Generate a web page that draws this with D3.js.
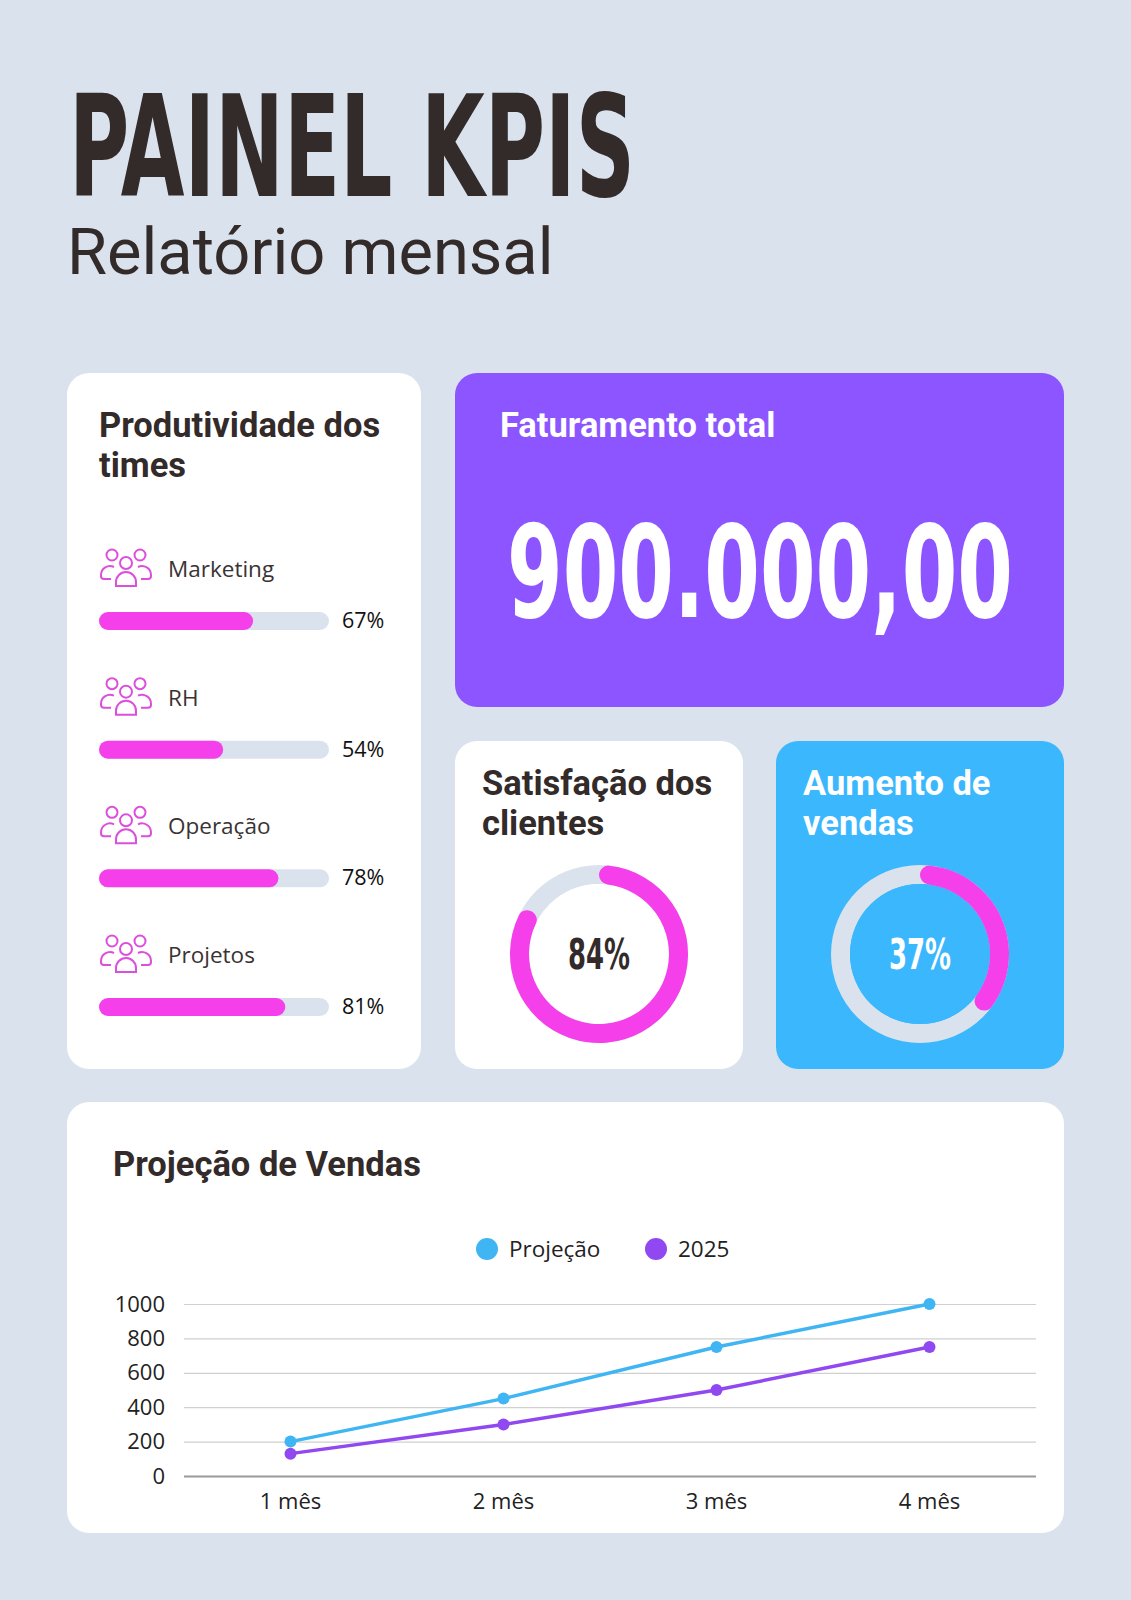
<html lang="pt">
  <head>
    <meta charset="UTF-8" />
    <title>Painel KPIs</title>
    <script src="https://d3js.org/d3.v7.min.js"></script>
  </head>
  <style>
    body {
      margin: 0px;
      overflow: hidden;
      background: #dae3ed;
    }
    text {
      fill: #332a2a;
    }
  </style>
  <body>
    <svg width="1131" height="1600"></svg>
  </body>
  <footer>
    <script>
      // dados
      var teams = ["Marketing", "RH", "Operação", "Projetos"];
      var teamValues = [67, 54, 78, 81];
      var revenueLabel = "900.000,00";
      var satisfaction = 84;
      var salesIncrease = 37;
      var months = ["1 mês", "2 mês", "3 mês", "4 mês"];
      var projection = [200, 450, 750, 1000];
      var sales2025 = [130, 300, 500, 750];
      var seriesNames = ["Projeção", "2025"];
      var yTicks = [0, 200, 400, 600, 800, 1000];

      var pink = "#f53fea";
      var track = "#dae3ed";
      var purple = "#8c55ff";
      var blue = "#3bb7fd";
      var dark = "#332a2a";
      var heading = "Roboto, 'Liberation Sans', sans-serif";
      var body = "'Open Sans', 'Noto Sans', sans-serif";
      var condensed = "'DejaVu Sans Condensed', 'Liberation Sans Narrow', sans-serif";

      var svg = d3.select("svg");

      svg.append("rect").attr("width", 1131).attr("height", 1600).attr("fill", "#dae3ed");

      // texto condensado: escala horizontal para caber na largura pedida
      function squeezed(x, y, size, width, color, str, anchor) {
        var g = svg.append("g");
        var t = g
          .append("text")
          .attr("font-family", condensed)
          .attr("font-weight", "bold")
          .attr("font-size", size)
          .attr("text-anchor", anchor || "start")
          .style("fill", color)
          .text(str);
        var k = width / t.node().getComputedTextLength();
        g.attr("transform", `translate(${x}, ${y}) scale(${k}, 1)`);
        return g;
      }

      // titulo
      squeezed(69, 196, 140, 566, dark, "PAINEL KPIS");

      svg
        .append("text")
        .attr("x", 67)
        .attr("y", 274)
        .attr("font-family", heading)
        .attr("font-size", 65)
        .text("Relatório mensal");

      // cards
      var cards = [
        { x: 67, y: 373, w: 354, h: 696, fill: "#ffffff" },
        { x: 455, y: 373, w: 609, h: 334, fill: purple },
        { x: 455, y: 741, w: 288, h: 328, fill: "#ffffff" },
        { x: 776, y: 741, w: 288, h: 328, fill: blue },
        { x: 67, y: 1102, w: 997, h: 431, fill: "#ffffff" }
      ];
      svg
        .selectAll("rect.card")
        .data(cards)
        .enter()
        .append("rect")
        .attr("class", "card")
        .attr("x", (d) => d.x)
        .attr("y", (d) => d.y)
        .attr("width", (d) => d.w)
        .attr("height", (d) => d.h)
        .attr("rx", 22)
        .attr("fill", (d) => d.fill);

      function title(lines, x, y, color) {
        var t = svg
          .append("text")
          .attr("font-family", heading)
          .attr("font-weight", "bold")
          .attr("font-size", 34.5)
          .style("fill", color);
        lines.forEach(function (l, i) {
          t.append("tspan").attr("x", x).attr("y", y + i * 40).text(l);
        });
      }

      title(["Produtividade dos", "times"], 99, 437, dark);
      title(["Faturamento total"], 500, 437, "#ffffff");
      title(["Satisfação dos", "clientes"], 482, 795, dark);
      title(["Aumento de", "vendas"], 803, 795, "#ffffff");
      title(["Projeção de Vendas"], 113, 1176, dark);

      // produtividade
      var rowY = d3.scalePoint().domain(teams).range([577, 963]);
      var barX = d3.scaleLinear().domain([0, 100]).range([99, 329]);

      var rows = svg
        .selectAll("g.team")
        .data(teams)
        .enter()
        .append("g")
        .attr("class", "team")
        .attr("transform", (d) => `translate(0, ${rowY(d)})`);

      // icone de pessoas
      var icon = rows
        .append("g")
        .attr("transform", "translate(99, -29)")
        .attr("fill", "none")
        .attr("stroke", "#dc4fdc")
        .attr("stroke-width", 2);
      icon.append("circle").attr("cx", 13).attr("cy", 7).attr("r", 5.5);
      icon.append("circle").attr("cx", 41).attr("cy", 7).attr("r", 5.5);
      icon.append("circle").attr("cx", 27).attr("cy", 15).attr("r", 6);
      icon.append("path").attr("d", "M17,38 v-4 a10,10 0 0 1 20,0 v4 z");
      icon.append("path").attr("d", "M12,31 h-7 a3,3 0 0 1 -3,-3 v-1 a9,9 0 0 1 13,-8");
      icon.append("path").attr("d", "M42,31 h7 a3,3 0 0 0 3,-3 v-1 a9,9 0 0 0 -13,-8");

      rows
        .append("text")
        .attr("x", 168)
        .attr("y", 0)
        .attr("font-family", body)
        .attr("font-size", 22.5)
        .style("fill", "#3a3333")
        .text((d) => d);

      rows
        .append("rect")
        .attr("x", barX(0))
        .attr("y", 35)
        .attr("width", barX(100) - barX(0))
        .attr("height", 18)
        .attr("rx", 9)
        .attr("fill", track);

      rows
        .append("rect")
        .attr("x", barX(0))
        .attr("y", 35)
        .attr("width", (d, i) => barX(teamValues[i]) - barX(0))
        .attr("height", 18)
        .attr("rx", 9)
        .attr("fill", pink);

      rows
        .append("text")
        .attr("x", 342)
        .attr("y", 51)
        .attr("font-family", body)
        .attr("font-size", 21.5)
        .style("fill", "#111")
        .text((d, i) => teamValues[i] + "%");

      // faturamento
      squeezed(507, 617, 128, 506, "#ffffff", revenueLabel);

      // donuts
      var pct = d3.scaleLinear().domain([0, 100]).range([0, 2 * Math.PI]);
      var ring = d3.arc().innerRadius(70).outerRadius(89).cornerRadius(9.5);

      function donut(cx, cy, value, inner, textColor) {
        var g = svg.append("g").attr("transform", `translate(${cx}, ${cy})`);
        g.append("path")
          .attr("d", ring({ startAngle: 0, endAngle: 2 * Math.PI }))
          .attr("fill", track);
        g.append("circle").attr("r", 70).attr("fill", inner);
        g.append("path")
          .attr("d", ring({ startAngle: 0, endAngle: pct(value) }))
          .attr("fill", pink);
        squeezed(cx, cy + 15, 42, 62, textColor, value + "%", "middle");
      }
      donut(599, 954, satisfaction, "#ffffff", dark);
      donut(920, 954, salesIncrease, blue, "#ffffff");

      // projecao de vendas
      var x = d3.scaleBand().domain(months).range([184, 1036]);
      var y = d3.scaleLinear().domain([0, 1000]).range([1476, 1304]);
      var series = [
        { name: seriesNames[0], values: projection, color: "#3fb5f3" },
        { name: seriesNames[1], values: sales2025, color: "#9048f0" }
      ];

      var yAxis = svg
        .append("g")
        .attr("transform", "translate(184, 0)")
        .call(
          d3
            .axisLeft(y)
            .tickValues(yTicks)
            .tickFormat(d3.format("d"))
            .tickSize(-852)
            .tickPadding(19)
        );
      yAxis.select(".domain").remove();
      yAxis
        .selectAll(".tick line")
        .attr("stroke", (d) => (d === 0 ? "#9a9a9a" : "#d0d0d0"))
        .attr("stroke-width", (d) => (d === 0 ? 2 : 1.2));
      yAxis
        .selectAll(".tick text")
        .attr("font-family", body)
        .attr("font-size", 22)
        .style("fill", "#222");

      var xAxis = svg
        .append("g")
        .attr("transform", "translate(0, 1476)")
        .call(d3.axisBottom(x).tickSize(0).tickPadding(17));
      xAxis.select(".domain").remove();
      xAxis
        .selectAll(".tick text")
        .attr("font-family", body)
        .attr("font-size", 22)
        .style("fill", "#222");

      var line = d3
        .line()
        .x((d, i) => x(months[i]) + x.bandwidth() / 2)
        .y((d) => y(d));

      series.forEach(function (s) {
        svg
          .append("path")
          .attr("d", line(s.values))
          .attr("fill", "none")
          .attr("stroke", s.color)
          .attr("stroke-width", 3.5);
        svg
          .selectAll(null)
          .data(s.values)
          .enter()
          .append("circle")
          .attr("cx", (d, i) => x(months[i]) + x.bandwidth() / 2)
          .attr("cy", (d) => y(d))
          .attr("r", 6)
          .attr("fill", s.color);
      });

      // legenda
      var legendX = [487, 656];
      var legend = svg
        .selectAll("g.legend")
        .data(series)
        .enter()
        .append("g")
        .attr("class", "legend")
        .attr("transform", (d, i) => `translate(${legendX[i]}, 1249)`);
      legend.append("circle").attr("r", 11).attr("fill", (d) => d.color);
      legend
        .append("text")
        .attr("x", 22)
        .attr("y", 8)
        .attr("font-family", body)
        .attr("font-size", 22.5)
        .style("fill", "#222")
        .text((d) => d.name);
    </script>
  </footer>
</html>
